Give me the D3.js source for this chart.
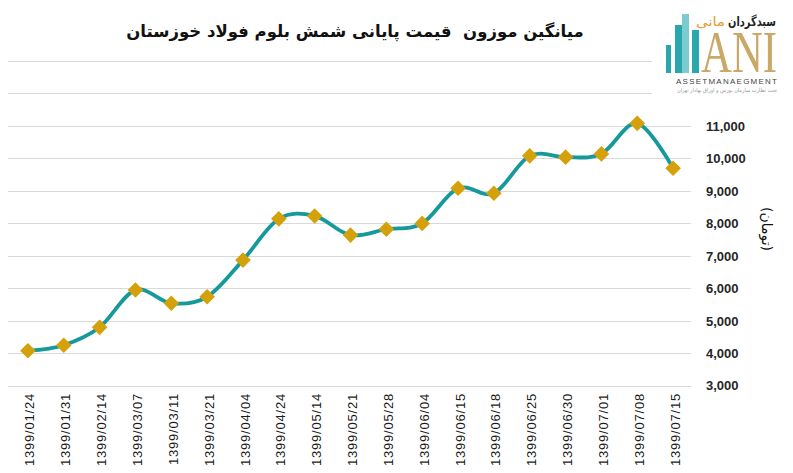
<!DOCTYPE html>
<html>
<head>
<meta charset="utf-8">
<script src="https://cdn.jsdelivr.net/npm/d3@7"></script>
<style>
  html, body { margin: 0; padding: 0; background: #ffffff; }
  svg { display: block; }
</style>
</head>
<body>
<svg id="chart" width="793" height="473"></svg>
<script>
const categories = ["1399/01/24","1399/01/31","1399/02/14","1399/03/07","1399/03/11","1399/03/21","1399/04/04","1399/04/24","1399/05/14","1399/05/21","1399/05/28","1399/06/04","1399/06/15","1399/06/18","1399/06/25","1399/06/30","1399/07/01","1399/07/08","1399/07/15"];
const prices = [4080, 4250, 4800, 5950, 5540, 5740, 6870, 8140, 8230, 7640, 7820, 8000, 9080, 8930, 10080, 10040, 10140, 11080, 9700];
const yTicks = [3000, 4000, 5000, 6000, 7000, 8000, 9000, 10000, 11000, 12000, 13000];
const titleText = "میانگین موزون  قیمت پایانی شمش بلوم فولاد خوزستان";
const yAxisTitle = "(تومان)";

const svg = d3.select("#chart");

const x = d3.scaleBand().domain(categories).range([10, 691]).paddingInner(0).paddingOuter(0);
const y = d3.scaleLinear().domain([3000, 13000]).range([385.8, 61]);

// gridlines
svg.append("g").selectAll("line").data(yTicks).join("line")
  .attr("x1", 8).attr("x2", 691)
  .attr("y1", d => Math.round(y(d)) + 0.5).attr("y2", d => Math.round(y(d)) + 0.5)
  .attr("stroke", "#d9d9d9").attr("stroke-width", 1);

// y axis labels (right side)
const yAxis = d3.axisRight(y).tickValues(yTicks.filter(d => d <= 11000)).tickFormat(d3.format(",")).tickSize(0).tickPadding(0);
const yg = svg.append("g").attr("transform", "translate(706,0)").call(yAxis);
yg.select(".domain").remove();
yg.selectAll("text")
  .attr("font-family", "Liberation Sans, Arial, sans-serif")
  .attr("font-weight", "bold").attr("font-size", 13).attr("fill", "#262626")
  .attr("text-anchor", "start");

// x axis labels
const xAxis = d3.axisBottom(x).tickSize(0).tickPadding(0);
const xg = svg.append("g").attr("transform", "translate(0,393)").call(xAxis);
xg.select(".domain").remove();
xg.selectAll("text")
  .attr("font-family", "Liberation Sans, Arial, sans-serif")
  .attr("font-size", 13).attr("fill", "#1a1a1a")
  .attr("letter-spacing", "0.8px")
  .attr("text-anchor", "end")
  .attr("transform", "rotate(-90)")
  .attr("x", 0).attr("y", 2).attr("dy", "0.35em");

// line
const line = d3.line()
  .x((d, i) => x(categories[i]) + x.bandwidth() / 2)
  .y(d => y(d))
  .curve(d3.curveCardinal.tension(0));
svg.append("path").datum(prices)
  .attr("d", line).attr("fill", "none")
  .attr("stroke", "#15999a").attr("stroke-width", 3.8);

// markers
const diamond = d3.symbol().type(d3.symbolDiamond2).size(155);
svg.append("g").selectAll("path").data(prices).join("path")
  .attr("d", diamond)
  .attr("transform", (d, i) => `translate(${x(categories[i]) + x.bandwidth() / 2},${y(d)})`)
  .attr("fill", "#d5a10b");

// title
svg.append("text")
  .attr("x", 355).attr("y", 37)
  .attr("text-anchor", "middle")
  .style("white-space", "pre")
  .attr("font-family", "DejaVu Sans, sans-serif")
  .attr("font-weight", "bold").attr("font-size", 16.5)
  .attr("fill", "#111")
  .text(titleText);

// y axis title
svg.append("text")
  .attr("transform", "translate(762,229) rotate(90)")
  .attr("text-anchor", "middle")
  .attr("font-family", "DejaVu Sans, sans-serif")
  .attr("font-size", 14)
  .attr("fill", "#111")
  .text(yAxisTitle);

// logo
const logo = svg.append("g");
logo.append("rect").attr("x", 652).attr("y", 5).attr("width", 141).attr("height", 92).attr("fill", "#ffffff");
const bars = [[666, 45, 5, "#2aa7ad"], [675, 25, 7, "#2aa7ad"], [682, 14, 7, "#7ccbd0"], [692, 30, 7, "#2aa7ad"]];
logo.selectAll("rect.bar").data(bars).join("rect").attr("class", "bar")
  .attr("x", d => d[0]).attr("y", d => d[1]).attr("width", d => d[2]).attr("height", d => 73 - d[1]).attr("fill", d => d[3]);
logo.append("text").attr("transform", "translate(701,72) scale(1,1.35)")
  .attr("font-family", "Liberation Serif, serif").attr("font-size", 44)
  .attr("textLength", 76).attr("lengthAdjust", "spacingAndGlyphs")
  .attr("fill", "#c9a868").text("ANI");
logo.append("text").attr("x", 776).attr("y", 26)
  .attr("text-anchor", "end")
  .attr("font-family", "DejaVu Sans, sans-serif").attr("font-weight", "bold").attr("font-size", 13)
  .attr("textLength", 48).attr("lengthAdjust", "spacingAndGlyphs")
  .attr("fill", "#222").text("سبدگردان");
logo.append("text").attr("x", 725).attr("y", 26)
  .attr("text-anchor", "end")
  .attr("font-family", "DejaVu Sans, sans-serif").attr("font-size", 13)
  .attr("textLength", 29).attr("lengthAdjust", "spacingAndGlyphs")
  .attr("fill", "#e0a030").text("مانی");
logo.append("text").attr("x", 676).attr("y", 84)
  .attr("font-family", "Liberation Sans, sans-serif").attr("font-size", 8)
  .attr("textLength", 101).attr("lengthAdjust", "spacing")
  .attr("fill", "#444").text("ASSETMANAEGMENT");
logo.append("text").attr("x", 777).attr("y", 92)
  .attr("text-anchor", "end")
  .attr("font-family", "DejaVu Sans, sans-serif").attr("font-size", 5.5)
  .attr("textLength", 100).attr("lengthAdjust", "spacingAndGlyphs")
  .attr("fill", "#999").text("تحت نظارت سازمان بورس و اوراق بهادار تهران");
</script>
</body>
</html>
